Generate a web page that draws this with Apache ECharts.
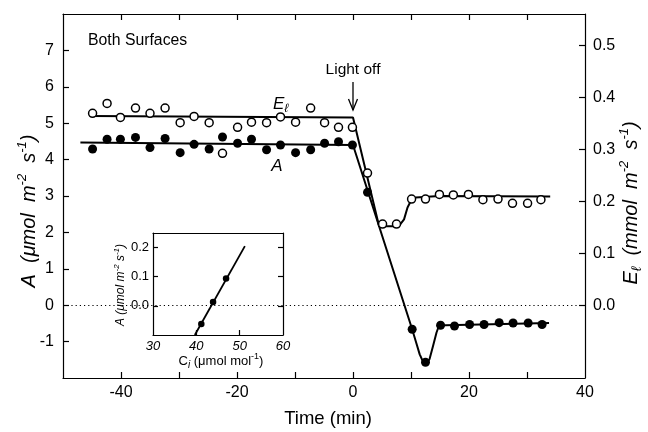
<!DOCTYPE html>
<html><head><meta charset="utf-8">
<script src="https://cdn.jsdelivr.net/npm/echarts@6/dist/echarts.min.js"></script>
<style>html,body{margin:0;padding:0;background:#fff}#c{width:648px;height:432px}</style>
</head><body><div id="c"></div>
<script>
// ---- Main panel data (time in min) ----
const aTime = [-44.9,-42.4,-40.1,-37.5,-35,-32.4,-29.8,-27.4,-24.8,-22.5,-19.9,-17.5,-14.9,-12.5,-9.9,-7.3,-4.9,-2.5,-0.1,
               2.5,10.2,12.5,15.1,17.5,20.1,22.6,25.2,27.6,30.2,32.6];
const aVal  = [4.29,4.56,4.56,4.61,4.33,4.58,4.19,4.42,4.29,4.62,4.45,4.56,4.27,4.40,4.19,4.27,4.45,4.49,4.40,
               3.10,-0.66,-1.57,-0.55,-0.57,-0.53,-0.53,-0.48,-0.49,-0.49,-0.53];
const eTime = [-44.9,-42.4,-40.1,-37.5,-35,-32.4,-29.8,-27.4,-24.8,-22.5,-19.9,-17.5,-14.9,-12.5,-9.9,-7.3,-4.9,-2.5,-0.1,
               2.5,5.1,7.5,10.1,12.5,14.9,17.3,19.9,22.4,25,27.5,30.1,32.4];
const eVal  = [0.369,0.388,0.361,0.379,0.369,0.379,0.351,0.363,0.351,0.292,0.342,0.352,0.351,0.362,0.352,0.379,0.351,0.342,0.342,
               0.254,0.156,0.156,0.204,0.204,0.213,0.212,0.213,0.203,0.204,0.196,0.196,0.203];
// fitted curves
const aFitT = [-47,0,10.2,10.9,11.5,12.1,12.65,13.2,13.8,14.4,14.85,16,33.8];
const aFitV = [4.47,4.40,-0.66,-1.03,-1.35,-1.56,-1.62,-1.48,-1.12,-0.75,-0.55,-0.55,-0.49];
const eFitT = [-45.2,0,4.5,7.9,8.8,9.4,9.95,10.8,14.9,34];
const eFitV = [0.364,0.361,0.152,0.152,0.165,0.188,0.200,0.207,0.210,0.209];
// ticks
const xTicks = [-40,-30,-20,-10,0,10,20,30];
const xLabels = [-40,-20,0,20,40];
const aTicks = [-1,0,1,2,3,4,5,6,7];
const eTicks = [0,0.1,0.2,0.3,0.4,0.5];
// ---- Inset data ----
const ciVal = [41.15,43.86,46.86];
const ciA   = [-0.062,0.013,0.094];
const ciFitX = [39.65,51.2];
const ciFitY = [-0.1,0.205];
const insetXTicks = [40,50];
const insetXLabels = [30,40,50,60];
const insetYTicks = [0,0.1,0.2];

const FONT = '"Liberation Sans", Arial, Helvetica, sans-serif';
const chart = echarts.init(document.getElementById('c'), null, {renderer:'canvas'});
const K = {color:'#000', width:1.2};
const ax = (o) => Object.assign({type:'value', splitLine:{show:false}, axisLine:{show:true, onZero:false, lineStyle:K}}, o);
const lab = (extra) => Object.assign({color:'#000', fontFamily:FONT, fontSize:16}, extra);

chart.setOption({
  animation:false,
  backgroundColor:'#fff',
  grid:[
    {left:63, right:63, top:14, bottom:54},
    {left:153, top:233, width:130, height:102}
  ],
  xAxis:[
    ax({gridIndex:0, min:-50, max:40, interval:10, position:'bottom',
        axisTick:{inside:true, length:6, lineStyle:K, customValues:xTicks},
        axisLabel:lab({customValues:xLabels, margin:7})}),
    ax({gridIndex:0, min:-50, max:40, interval:10, position:'top',
        axisTick:{inside:true, length:6, lineStyle:K, customValues:xTicks},
        axisLabel:{show:false}}),
    ax({gridIndex:1, min:30, max:60, interval:10, position:'bottom',
        axisTick:{inside:true, length:5, lineStyle:K, customValues:insetXTicks},
        axisLabel:lab({customValues:insetXLabels, fontSize:13, fontStyle:'italic', margin:5})}),
    ax({gridIndex:1, min:30, max:60, interval:10, position:'top',
        axisTick:{show:false}, axisLabel:{show:false}})
  ],
  yAxis:[
    ax({gridIndex:0, min:-2, max:8, interval:1, position:'left',
        axisTick:{inside:true, length:6, lineStyle:K, customValues:aTicks},
        axisLabel:lab({customValues:aTicks, margin:9})}),
    ax({gridIndex:0, min:-0.14, max:0.56, position:'right',
        axisTick:{inside:true, length:6, lineStyle:K, customValues:eTicks},
        axisLabel:lab({customValues:eTicks, margin:8, formatter:v=>v.toFixed(1)})}),
    ax({gridIndex:1, min:-0.1, max:0.25, position:'left',
        axisTick:{inside:true, length:5, lineStyle:K, customValues:insetYTicks},
        axisLabel:lab({customValues:insetYTicks, fontSize:13, margin:4, formatter:v=>v.toFixed(1)})}),
    ax({gridIndex:1, min:-0.1, max:0.25, position:'right',
        axisTick:{inside:true, length:5, lineStyle:K, customValues:insetYTicks},
        axisLabel:{show:false}})
  ],
  series:[
    {type:'line', xAxisIndex:0, yAxisIndex:0, data:aFitT.map((t,i)=>[t,aFitV[i]]), symbol:'none', silent:true, z:2,
     lineStyle:{color:'#000', width:2},
     markLine:{silent:true, symbol:'none', label:{show:false}, lineStyle:{type:[1.2,3], color:'#000', width:1}, data:[{yAxis:0}]}},
    {type:'line', xAxisIndex:0, yAxisIndex:1, data:eFitT.map((t,i)=>[t,eFitV[i]]), symbol:'none', silent:true, z:2,
     lineStyle:{color:'#000', width:2}},
    {type:'scatter', xAxisIndex:0, yAxisIndex:1, data:eTime.map((t,i)=>[t,eVal[i]]), symbol:'circle', symbolSize:8, z:3,
     itemStyle:{color:'#fff', borderColor:'#000', borderWidth:1.5, opacity:1}},
    {type:'scatter', xAxisIndex:0, yAxisIndex:0, data:aTime.map((t,i)=>[t,aVal[i]]), symbol:'circle', symbolSize:9, z:4,
     itemStyle:{color:'#000', opacity:1}},
    {type:'line', xAxisIndex:2, yAxisIndex:2, data:ciFitX.map((x,i)=>[x,ciFitY[i]]), symbol:'none', silent:true, z:2,
     lineStyle:{color:'#000', width:1.8}},
    {type:'scatter', xAxisIndex:2, yAxisIndex:2, data:ciVal.map((x,i)=>[x,ciA[i]]), symbol:'circle', symbolSize:6.5, z:3,
     itemStyle:{color:'#000', opacity:1}}
  ]
});

const px = (t, a) => chart.convertToPixel({xAxisIndex:0, yAxisIndex:0}, [t, a]);
const p0 = px(0, 0);
const arrowTop = 82, arrowBot = 110;
const ital = {fontFamily:FONT, fontStyle:'italic', fontSize:20, fill:'#000', lineHeight:26};
const sup = {fontFamily:FONT, fontStyle:'italic', fontSize:13, fill:'#000', verticalAlign:'top', lineHeight:26};
const sub = {fontFamily:FONT, fontStyle:'italic', fontSize:14, fill:'#000', verticalAlign:'bottom', lineHeight:26};

chart.setOption({
  graphic:[
    {type:'text', x:88, y:41, style:{text:'Both Surfaces', font:'15.8px '+FONT, fill:'#000', align:'left', verticalAlign:'middle'}},
    {type:'text', x:p0[0], y:70, style:{text:'Light off', font:'15.5px '+FONT, fill:'#000', align:'center', verticalAlign:'middle'}},
    {type:'line', shape:{x1:p0[0], y1:arrowTop, x2:p0[0], y2:arrowBot}, style:{stroke:'#000', lineWidth:1.3}},
    {type:'polyline', shape:{points:[[p0[0]-4.5,arrowBot-11],[p0[0],arrowBot],[p0[0]+4.5,arrowBot-11]]}, style:{stroke:'#000', lineWidth:1.3, fill:null}},
    {type:'text', x:273, y:104, style:{text:'{e|E}{s|ℓ}', rich:{e:{fontFamily:FONT, fontStyle:'italic', fontSize:17, fill:'#000', lineHeight:22},
      s:{fontFamily:FONT, fontStyle:'italic', fontSize:12, fill:'#000', verticalAlign:'bottom', lineHeight:22}}, align:'left', verticalAlign:'middle'}},
    {type:'text', x:277, y:166, style:{text:'A', font:'italic 17px '+FONT, fill:'#000', align:'center', verticalAlign:'middle'}},
    {type:'text', x:29, y:211, rotation:Math.PI/2,
     style:{text:'{a|A  (μmol  m}{s|-2}{a|  s}{s|-1}{a|)}', rich:{a:ital, s:sup}, align:'center', verticalAlign:'middle'}},
    {type:'text', x:631, y:203, rotation:Math.PI/2,
     style:{text:'{a|E}{b|ℓ}{a|  (mmol  m}{s|-2}{a|  s}{s|-1}{a|)}', rich:{a:ital, b:sub, s:sup}, align:'center', verticalAlign:'middle'}},
    {type:'text', x:328, y:419, style:{text:'Time (min)', font:'18.5px '+FONT, fill:'#000', align:'center', verticalAlign:'middle'}},
    {type:'text', x:221, y:361, style:{text:'{a|C}{b|i}{a| (μmol mol}{s|-1}{a|)}',
      rich:{a:{fontFamily:FONT, fontSize:13, fill:'#000', lineHeight:18}, b:{fontFamily:FONT, fontStyle:'italic', fontSize:10, fill:'#000', verticalAlign:'bottom', lineHeight:18},
            s:{fontFamily:FONT, fontSize:9, fill:'#000', verticalAlign:'top', lineHeight:18}}, align:'center', verticalAlign:'middle'}},
    {type:'text', x:121, y:285, rotation:Math.PI/2, style:{text:'{a|A (μmol m}{s|-2}{a| s}{s|-1}{a|)}',
      rich:{a:{fontFamily:FONT, fontStyle:'italic', fontSize:12, fill:'#000', lineHeight:16}, s:{fontFamily:FONT, fontStyle:'italic', fontSize:8, fill:'#000', verticalAlign:'top', lineHeight:16}},
      align:'center', verticalAlign:'middle'}}
  ]
});
</script></body></html>
